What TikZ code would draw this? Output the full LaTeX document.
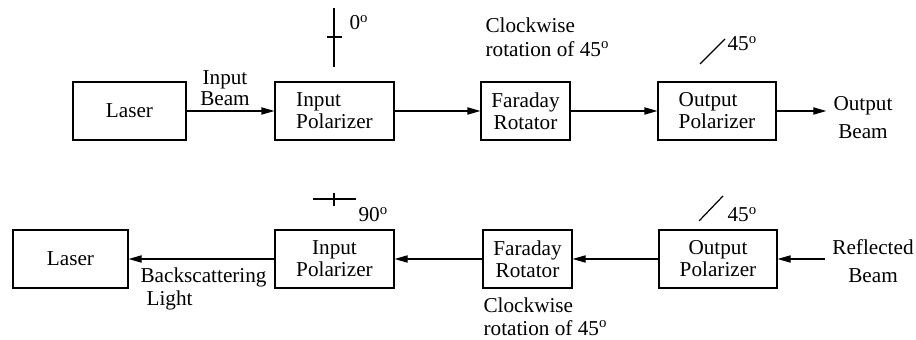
\documentclass[tikz,border=0pt]{standalone}
\usepackage{fontspec}
\setmainfont{Liberation Serif}
\usetikzlibrary{arrows.meta}

\begin{document}
\begin{tikzpicture}[x=0.5pt, y=-0.5pt, line width=0.6pt, >={Triangle[length=6.5pt,width=3.6pt]},
    font=\fontsize{10.6}{12}\selectfont,
    boxnode/.style={draw, inner sep=0pt, minimum height=29pt, align=center, font=\fontsize{10.6}{11}\selectfont},
    txt/.style={inner sep=0pt}]
            \useasboundingbox (0,0) rectangle (916,340);

            % Hàng trên: chùm tia đi tới
            \node[boxnode, minimum width=56.5pt] (laser1) at (129.5,111) {Laser};
            \node[boxnode, minimum width=59.5pt, align=left] (inpol1) at (334.5,111) {Input\\Polarizer};
            \node[boxnode, minimum width=44.5pt] (far1) at (525.5,111) {Faraday\\Rotator};
            \node[boxnode, minimum width=59pt, align=left] (outpol1) at (717,111) {Output\\Polarizer};
            \node[align=center, font=\fontsize{10.6}{14}\selectfont] (outbeam) at (863,118) {Output\\Beam};

            % Mũi tên hàng trên
            \draw[->] (laser1) -- (inpol1);
            \draw[->] (inpol1) -- (far1);
            \draw[->] (far1) -- (outpol1);
            \draw[->] (outpol1) -- (outpol1 -| outbeam.west);

            % Nhãn hàng trên
            \node[txt, align=center, font=\fontsize{10.6}{7.5}\selectfont] (inbeam) at (225,88) {Input\\Beam};
            \node[txt, anchor=north west, align=left, font=\fontsize{10.6}{12}\selectfont] (rot1) at (485,17) {Clockwise\\rotation of 45\textsuperscript{o}};

            % Hướng phân cực hàng trên
            \draw (334,8) -- (334,67);
            \draw (327,37) -- (342,37);
            \node[txt, anchor=base west] (deg0) at (349,30) {0\textsuperscript{o}};
            \draw (700,64) -- (725,39);
            \node[txt, anchor=base west] (deg45a) at (727,51) {45\textsuperscript{o}};

            % Hàng dưới: chùm tia phản xạ
            \node[boxnode, minimum width=57.5pt] (laser2) at (70.5,259) {Laser};
            \node[boxnode, minimum width=59.5pt] (inpol2) at (334.5,259) {Input\\Polarizer};
            \node[boxnode, minimum width=44.5pt] (far2) at (527.5,259) {Faraday\\Rotator};
            \node[boxnode, minimum width=59pt] (outpol2) at (718,259) {Output\\Polarizer};
            \node[align=center, font=\fontsize{10.6}{14}\selectfont] (reflbeam) at (873,261) {Reflected\\Beam};

            % Mũi tên hàng dưới
            \draw[->] (reflbeam.west |- outpol2) -- (outpol2);
            \draw[->] (outpol2) -- (far2);
            \draw[->] (far2) -- (inpol2);
            \draw[->] (inpol2) -- (laser2);

            % Nhãn hàng dưới
            \node[txt, anchor=north west, align=left, font=\fontsize{10.6}{11.5}\selectfont] (backsc) at (140,267) {Backscattering\\\hspace{3pt}Light};
            \node[txt, anchor=north west, align=left, font=\fontsize{10.6}{11.5}\selectfont] (rot2) at (483,297) {Clockwise\\rotation of 45\textsuperscript{o}};

            % Hướng phân cực hàng dưới
            \draw (313,199) -- (356,199);
            \draw (334,193) -- (334,206);
            \node[txt, anchor=base west] (deg90) at (358,222) {90\textsuperscript{o}};
            \draw (699,221) -- (723,196);
            \node[txt, anchor=base west] (deg45b) at (727,222) {45\textsuperscript{o}};
        \end{tikzpicture}
\end{document}
